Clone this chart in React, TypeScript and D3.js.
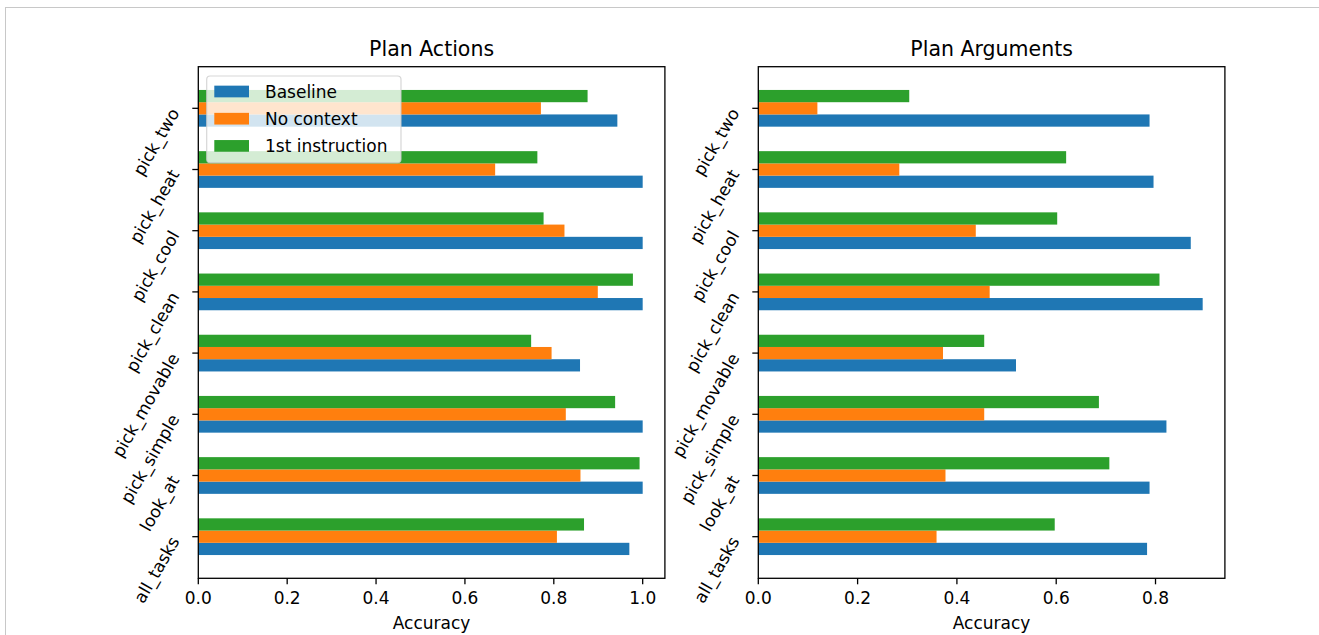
import React from "react";
import * as d3 from "d3";

const categories = ["all_tasks", "look_at", "pick_simple", "pick_movable", "pick_clean", "pick_cool", "pick_heat", "pick_two"];
const seriesNames = ["Baseline", "No context", "1st instruction"];
const colors = ["#1f77b4", "#ff7f0e", "#2ca02c"];

// Plan Actions
const actionsBaseline = [0.970, 1.0, 1.0, 0.859, 1.0, 1.0, 1.0, 0.943];
const actionsNoContext = [0.807, 0.860, 0.827, 0.795, 0.899, 0.824, 0.668, 0.771];
const actionsFirstInstr = [0.868, 0.993, 0.938, 0.749, 0.978, 0.777, 0.763, 0.876];

// Plan Arguments
const argsBaseline = [0.783, 0.788, 0.822, 0.519, 0.895, 0.871, 0.796, 0.788];
const argsNoContext = [0.359, 0.377, 0.455, 0.372, 0.466, 0.438, 0.284, 0.119];
const argsFirstInstr = [0.597, 0.707, 0.686, 0.455, 0.808, 0.602, 0.620, 0.304];

const actionsTicks = [0, 0.2, 0.4, 0.6, 0.8, 1.0];
const argsTicks = [0, 0.2, 0.4, 0.6, 0.8];

const FONT = "DejaVu Sans, sans-serif";
const TOP = 66.7;
const BOTTOM = 578.3;
const BAR_H = 0.2;

function Panel({ left, width, title, series, ticks, legend }: any) {
  const maxV = d3.max(series.flat() as number[]) as number;
  const x = d3.scaleLinear().domain([0, maxV * 1.05]).range([left, left + width]);
  const y = d3.scaleLinear().domain([-0.68, 7.68]).range([BOTTOM, TOP]);
  const bh = Math.abs(y(BAR_H) - y(0));
  return (
    <g>
      <text x={left + width / 2} y={56} textAnchor="middle" fontSize={20.5} fontFamily={FONT} fill="#000">{title}</text>
      {series.map((vals: number[], si: number) =>
        vals.map((v, ci) => {
          const c = ci + (si - 1) * BAR_H;
          return (
            <rect key={`${si}-${ci}`} x={x(0)} y={y(c + BAR_H / 2)} width={x(v) - x(0)} height={bh} fill={colors[si]} />
          );
        })
      )}
      <rect x={left} y={TOP} width={width} height={BOTTOM - TOP} fill="none" stroke="#000" strokeWidth={1.3} />
      {ticks.map((t: number) => (
        <g key={t}>
          <line x1={x(t)} x2={x(t)} y1={BOTTOM} y2={BOTTOM + 6} stroke="#000" strokeWidth={1.3} />
          <text x={x(t)} y={603.5} textAnchor="middle" fontSize={17} fontFamily={FONT} fill="#000">{t.toFixed(1)}</text>
        </g>
      ))}
      {categories.map((c, i) => (
        <g key={c}>
          <line x1={left - 6} x2={left} y1={y(i)} y2={y(i)} stroke="#000" strokeWidth={1.3} />
          <text
            transform={`translate(${left - 23.5},${y(i) + 1.5}) rotate(-60)`}
            textAnchor="end"
            dy="0.35em"
            fontSize={17}
            fontFamily={FONT}
            fill="#000"
          >{c}</text>
        </g>
      ))}
      <text x={left + width / 2} y={629} textAnchor="middle" fontSize={17} fontFamily={FONT} fill="#000">Accuracy</text>
      {legend && (
        <g>
          <rect x={206.7} y={76} width={194.3} height={86.7} rx={3.5} fill="#fff" fillOpacity={0.8} stroke="#cccccc" strokeOpacity={0.8} strokeWidth={1.2} />
          {seriesNames.map((n, i) => {
            const cy = 91.5 + i * 27.2;
            return (
              <g key={n}>
                <rect x={214.3} y={cy - 5.85} width={34.7} height={11.7} fill={colors[i]} />
                <text x={265} y={cy + 6} fontSize={17} fontFamily={FONT} fill="#000">{n}</text>
              </g>
            );
          })}
        </g>
      )}
    </g>
  );
}

export default function App() {
  return (
    <svg width={1319} height={635} style={{ position: "absolute", left: 0, top: 0, background: "#fff" }}>
      <rect x={0} y={0} width={1319} height={635} fill="#fff" />
      <line x1={5} x2={1319} y1={7.5} y2={7.5} stroke="#c8c8c8" strokeWidth={1} />
      <line x1={5.5} x2={5.5} y1={7} y2={635} stroke="#c8c8c8" strokeWidth={1} />
      <Panel left={198.3} width={466.6} title="Plan Actions" series={[actionsBaseline, actionsNoContext, actionsFirstInstr]} ticks={actionsTicks} legend />
      <Panel left={758.3} width={466.6} title="Plan Arguments" series={[argsBaseline, argsNoContext, argsFirstInstr]} ticks={argsTicks} />
    </svg>
  );
}
